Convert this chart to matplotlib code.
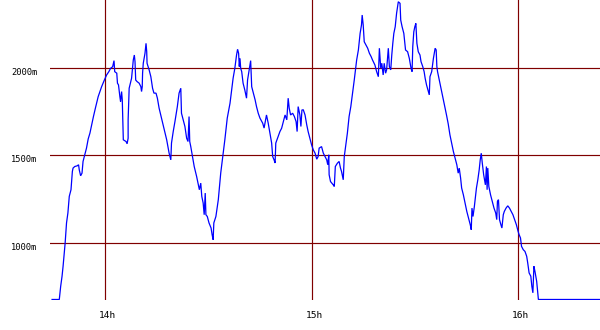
import matplotlib
matplotlib.use("Agg")
import matplotlib.pyplot as plt
import matplotlib.transforms as mtrans
import numpy as np

# minutes relative to 14:00
minutes = [-15.5, -13.4, -13.0, -12.6, -12.3, -12.0, -11.7, -11.3, -10.9, -10.5, -10.0, -9.6, -9.4, -8.9,
           -8.2, -7.8, -7.6, -7.2, -6.8, -6.5, -6.0, -5.5, -5.0, -4.5, -4.0, -3.5, -2.9, -2.1, -1.1, -0.3,
           0.35, 1.0, 1.5, 2.1, 2.5, 2.7, 3.3, 3.5, 3.8, 4.2, 4.4, 4.7, 4.9, 5.1, 5.2, 6.0, 6.3, 6.6, 6.6,
           6.9, 7.6, 8.1, 8.4, 8.6, 8.8, 9.2, 9.8, 10.3, 10.5, 10.7, 10.8, 11.0, 11.5, 11.8, 12.0, 12.1,
           12.7, 13.2, 13.7, 14.1, 14.7, 15.1, 15.6, 16.3, 17.0, 17.8, 18.5, 19.0, 19.2, 19.7, 20.2, 20.9,
           21.4, 21.9, 22.1, 22.6, 23.1, 23.6, 24.0, 24.3, 24.5, 24.8, 25.3, 25.8, 26.5, 27.3, 27.7, 28.0,
           28.4, 28.7, 29.0, 29.2, 29.6, 30.1, 30.7, 31.0, 31.3, 31.5, 32.1, 32.8, 33.5, 34.1, 34.7, 35.4,
           36.2, 37.1, 37.6, 38.1, 38.4, 38.7, 38.9, 39.1, 39.3, 39.6, 40.0, 40.5, 41.0, 41.3, 41.7, 42.2,
           42.5, 43.0, 43.5, 43.9, 44.4, 44.9, 45.7, 46.1, 46.8, 47.3, 47.8, 48.3, 48.6, 49.0, 49.3, 49.5,
           50.2, 50.7, 51.2, 51.7, 52.2, 52.7, 53.1, 53.4, 53.8, 54.4, 54.9, 55.4, 55.7, 56.0, 56.5, 56.8,
           57.1, 57.5, 58.0, 58.5, 58.9, 59.4, 59.9, 60.4, 60.9, 61.4, 61.8, 62.1, 62.8, 63.3, 63.8, 64.3,
           64.6, 64.9, 65.0, 65.4, 66.2, 66.5, 66.8, 67.4, 67.9, 68.3, 68.6, 69.1, 69.4, 69.9, 70.3, 70.8,
           71.3, 71.8, 72.3, 73.0, 73.5, 74.0, 74.4, 74.6, 74.9, 75.2, 75.7, 76.2, 76.7, 77.2, 77.6, 78.3,
           78.8, 79.3, 79.6, 80.0, 80.3, 80.7, 81.0, 81.4, 81.7, 82.2, 82.5, 82.9, 83.2, 83.5, 83.8, 84.2,
           84.6, 85.1, 85.6, 85.8, 86.2, 86.7, 87.2, 87.8, 88.3, 88.8, 89.1, 89.3, 89.6, 89.9, 90.2, 90.5,
           90.9, 91.4, 91.7, 92.2, 92.6, 92.9, 93.3, 93.7, 94.1, 94.3, 94.8, 95.3, 95.8, 96.1, 96.3, 96.5,
           96.9, 97.4, 98.0, 98.6, 99.1, 99.6, 100.1, 100.6, 101.1, 101.6, 102.1, 102.5, 102.8, 103.2,
           103.5, 104.0, 104.5, 105.0, 105.5, 106.0, 106.3, 106.5, 106.8, 107.2, 107.8, 108.2, 108.6,
           108.9, 109.2, 109.5, 109.9, 110.4, 110.7, 110.9, 111.1, 111.4, 111.9, 112.4, 112.9, 113.4,
           113.7, 113.9, 114.2, 114.5, 114.9, 115.2, 115.6, 115.9, 116.4, 116.9, 117.4, 117.9, 118.4,
           118.9, 119.4, 119.9, 120.2, 120.6, 120.9, 121.4, 121.9, 122.4, 122.7, 123.1, 123.6, 123.9,
           124.2, 124.5, 124.8, 125.3, 125.6, 125.8, 143.7]

altitude = [675, 675, 750, 808, 865, 932, 998, 1113, 1170, 1265, 1303, 1408, 1427, 1436,
            1440, 1446, 1417, 1383, 1398, 1465, 1503, 1541, 1594, 1627, 1674, 1720, 1771, 1836, 1893, 1931,
            1960, 1979, 1998, 2007, 2042, 1979, 1970, 1913, 1903, 1836, 1808, 1865, 1817, 1665, 1589, 1579, 1566, 1598, 1703,
            1884, 1941, 2046, 2074, 2036, 1931, 1922, 1913, 1893, 1865, 1893, 1970, 2027, 2084, 2141, 2093, 2027,
            1989, 1950, 1884, 1856, 1856, 1827, 1770, 1713, 1656, 1589, 1513, 1474, 1570, 1636, 1693, 1779,
            1856, 1884, 1741, 1703, 1665, 1598, 1579, 1722, 1579, 1550, 1493, 1436, 1379, 1303, 1341, 1265,
            1227, 1160, 1284, 1160, 1150, 1113, 1084, 1046, 1017, 1113, 1150, 1246, 1398, 1493, 1589, 1713,
            1798, 1941, 1998, 2074, 2107, 2084, 2008, 2055, 1998, 1979, 1913, 1874, 1827, 1931, 1979, 2042,
            1893, 1856, 1817, 1779, 1741, 1713, 1684, 1656, 1731, 1684, 1627, 1570, 1493, 1474, 1456, 1570,
            1608, 1636, 1655, 1693, 1731, 1703, 1827, 1770, 1731, 1741, 1722, 1693, 1636, 1779, 1731, 1665,
            1760, 1760, 1731, 1674, 1636, 1598, 1560, 1531, 1513, 1478, 1493, 1541, 1550, 1513, 1493, 1474,
            1446, 1503, 1389, 1350, 1331, 1322, 1436, 1455, 1465, 1427, 1408, 1360, 1493, 1570, 1627, 1722,
            1779, 1856, 1931, 2046, 2103, 2198, 2246, 2303, 2246, 2150, 2131, 2113, 2084, 2065, 2046, 2017,
            1979, 1950, 2113, 1998, 2027, 1960, 2027, 1970, 1989, 2113, 2008, 1989, 2074, 2141, 2198, 2236,
            2313, 2379, 2370, 2274, 2236, 2198, 2103, 2093, 2055, 1998, 1979, 2122, 2207, 2236, 2255, 2141,
            2093, 2074, 2036, 2008, 1979, 1941, 1903, 1874, 1846, 1950, 1979, 2055, 2113, 2103, 2008, 1979,
            1941, 1893, 1836, 1779, 1731, 1680, 1617, 1570, 1522, 1484, 1446, 1398, 1427, 1370,
            1313, 1274, 1227, 1179, 1141, 1103, 1074, 1198, 1150, 1208, 1313, 1360, 1417,
            1474, 1512, 1455, 1389, 1331, 1436, 1303, 1427, 1322, 1274, 1236, 1198, 1170,
            1132, 1236, 1246, 1132, 1103, 1084, 1160, 1179, 1198, 1211, 1198, 1179, 1160,
            1132, 1103, 1065, 1046, 1027, 979, 960, 950, 922, 884, 827, 808, 750,
            713, 865, 836, 779, 713, 675, 675]

hour_ticks = [14, 15, 16]
hour_labels = ["14h", "15h", "16h"]
alt_ticks = [1000, 1500, 2000]
alt_labels = ["1000m", "1500m", "2000m"]

hours = 14 + np.array(minutes) / 60.0

fig = plt.figure(figsize=(6, 3.3), dpi=100)
ax = fig.add_axes([50 / 600, 30 / 330, 550 / 600, 300 / 330])

grid_col = "#800000"
for h in hour_ticks:
    ax.axvline(h, color=grid_col, lw=0.85, zorder=1)
for a in alt_ticks:
    ax.axhline(a, color=grid_col, lw=0.85, zorder=1)

ax.plot(hours, altitude, color="#0000ff", lw=0.9, zorder=2, solid_joinstyle="miter")

ax.set_xlim(14 + (-16.1) / 60, 14 + 143.7 / 60)
ax.set_ylim(672, 2389)

ax.set_xticks(hour_ticks)
ax.set_xticklabels(hour_labels, family="DejaVu Sans Mono", fontsize=6.8)
ax.set_yticks(alt_ticks)
ax.set_yticklabels(alt_labels, family="DejaVu Sans Mono", fontsize=6.3)
ax.tick_params(axis="both", length=0)
ax.tick_params(axis="y", pad=9)
ax.tick_params(axis="x", pad=8)

# small offsets to match label placement
for lbl in ax.get_yticklabels():
    lbl.set_transform(lbl.get_transform() + mtrans.ScaledTranslation(0, -3.5 / 100, fig.dpi_scale_trans))
for lbl in ax.get_xticklabels():
    lbl.set_transform(lbl.get_transform() + mtrans.ScaledTranslation(2.5 / 100, 0, fig.dpi_scale_trans))

for s in ax.spines.values():
    s.set_visible(False)

fig.savefig("out.png", dpi=100)
